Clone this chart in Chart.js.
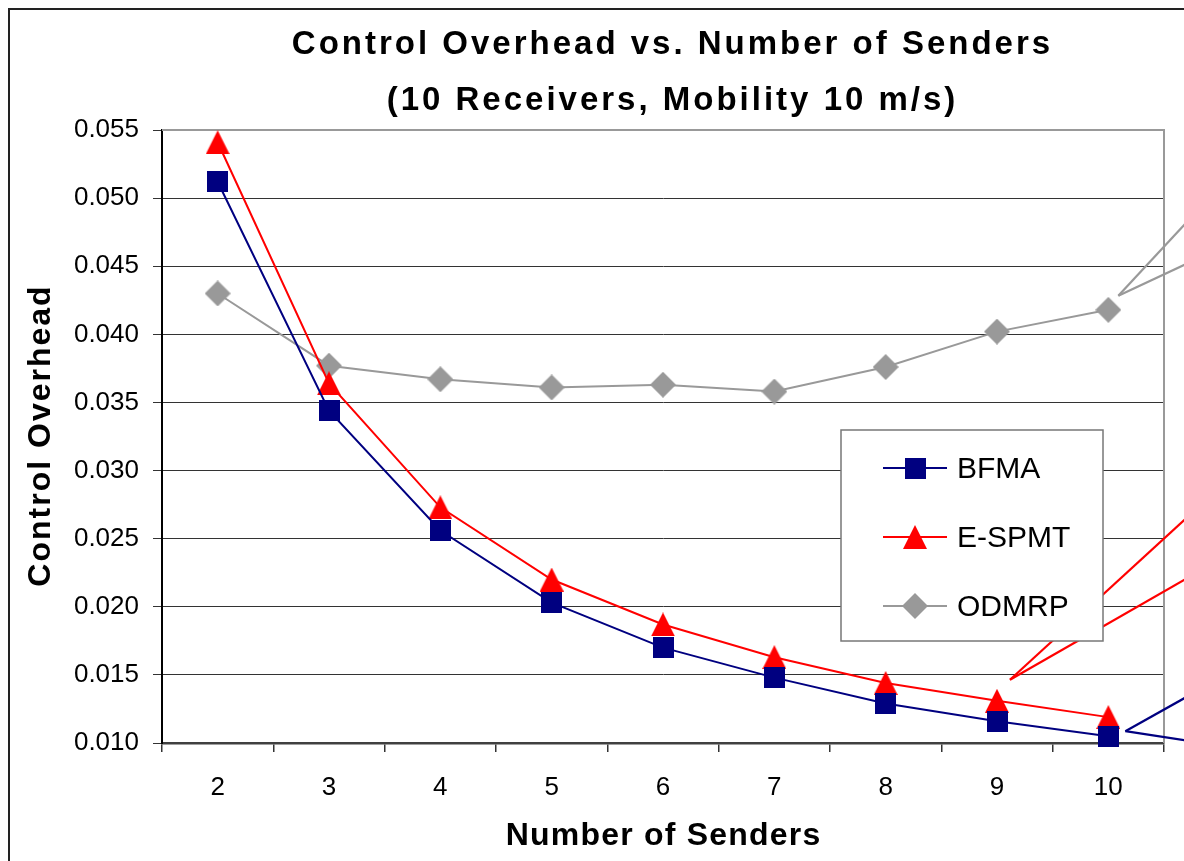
<!DOCTYPE html>
<html lang="en">
<head>
<meta charset="UTF-8">
<title>Control Overhead vs. Number of Senders</title>
<script src="https://cdn.jsdelivr.net/npm/chart.js"></script>
<style>
  html, body { margin: 0; padding: 0; background: #fff; overflow: hidden; }
  #wrap { width: 1184px; height: 861px; position: relative; }
</style>
</head>
<body>
<div id="wrap"><canvas id="grafik"></canvas></div>
<script>
// data
const senders = ["2", "3", "4", "5", "6", "7", "8", "9", "10"];
const bfma  = [0.0512, 0.0344, 0.0256, 0.0203, 0.0170, 0.0148, 0.0129, 0.0116, 0.0105];
const espmt = [0.0541, 0.0364, 0.0273, 0.0220, 0.0187, 0.0163, 0.0144, 0.0131, 0.0119];
const odmrp = [0.0430, 0.0377, 0.0367, 0.0361, 0.0363, 0.0358, 0.0376, 0.0402, 0.0418];
const seriesNames = ["BFMA", "E-SPMT", "ODMRP"];
const yMin = 0.010, yMax = 0.055, yStep = 0.005;

const titleLines = ["Control Overhead vs. Number of Senders", "(10 Receivers, Mobility 10 m/s)"];
const xTitle = "Number of Senders";
const yTitle = "Control Overhead";

const FONT = '"Liberation Sans", Arial, sans-serif';
const NAVY = "#000080", RED = "#ff0000", GRAY = "#999999";

// marker bikin sendiri supaya pas di tengah
function marker(shape, color, size) {
  const c = document.createElement("canvas");
  c.width = size; c.height = size;
  const g = c.getContext("2d");
  g.fillStyle = color;
  g.beginPath();
  if (shape === "square") {
    g.rect(0, 0, size, size);
  } else if (shape === "triangle") {
    g.moveTo(size / 2, 0); g.lineTo(size, size); g.lineTo(0, size); g.closePath();
  } else {
    g.moveTo(size / 2, 0); g.lineTo(size, size / 2); g.lineTo(size / 2, size); g.lineTo(0, size / 2); g.closePath();
  }
  g.fill();
  return c;
}
const mSquare = marker("square", NAVY, 21);
const mTriangle = marker("triangle", RED, 24);
const mDiamond = marker("diamond", GRAY, 26);

// garis callout (leader line) yang keluar ke kanan gambar
const callouts = [
  { ds: 2, idx: 8, off: [10, -14], dirs: [[66, -71], [66, -31]], color: GRAY },
  { ds: 1, idx: 7, off: [13, -21], dirs: [[169, -155], [169, -97]], color: RED },
  { ds: 0, idx: 8, off: [17, -5], dirs: [[59, -33], [59, 9]], color: NAVY }
];

function spacedText(ctx, text, x, y, ls) {
  ctx.letterSpacing = ls + "px";
  ctx.fillText(text, x + ls / 2, y);
  ctx.letterSpacing = "0px";
}

const hiasan = {
  id: "hiasan",
  beforeDatasetsDraw(chart) {
    const { ctx, chartArea: a } = chart;
    ctx.save();
    ctx.strokeStyle = GRAY;
    ctx.lineWidth = 2;
    ctx.beginPath();
    ctx.moveTo(a.left, a.top);
    ctx.lineTo(a.right, a.top);
    ctx.lineTo(a.right, a.bottom);
    ctx.stroke();
    ctx.restore();
  },
  afterDraw(chart) {
    const { ctx, chartArea: a, width, height } = chart;
    ctx.save();

    // bingkai luar
    ctx.strokeStyle = "#222";
    ctx.lineWidth = 2;
    ctx.beginPath();
    ctx.moveTo(9, height);
    ctx.lineTo(9, 9);
    ctx.lineTo(width, 9);
    ctx.stroke();

    // judul
    ctx.fillStyle = "#000";
    ctx.textAlign = "center";
    ctx.textBaseline = "alphabetic";
    ctx.font = "bold 33px " + FONT;
    const cx = (a.left + a.right) / 2 + 8;
    spacedText(ctx, titleLines[0], cx, 54, 3);
    spacedText(ctx, titleLines[1], cx, 110, 3);

    // judul sumbu
    ctx.font = "bold 32px " + FONT;
    spacedText(ctx, xTitle, (a.left + a.right) / 2, 845, 1.2);
    ctx.save();
    ctx.translate(50, (a.top + a.bottom) / 2);
    ctx.rotate(-Math.PI / 2);
    spacedText(ctx, yTitle, 0, 0, 2);
    ctx.restore();

    // callout
    ctx.lineWidth = 2.2;
    callouts.forEach(c => {
      const p = chart.getDatasetMeta(c.ds).data[c.idx];
      const vx = p.x + c.off[0], vy = p.y + c.off[1];
      ctx.strokeStyle = c.color;
      c.dirs.forEach(d => {
        ctx.beginPath();
        ctx.moveTo(vx, vy);
        ctx.lineTo(vx + d[0] * 3, vy + d[1] * 3);
        ctx.stroke();
      });
    });

    // legenda
    const bx = a.right - 323, by = a.top + 300, bw = 262, bh = 211;
    ctx.fillStyle = "#fff";
    ctx.fillRect(bx, by, bw, bh);
    ctx.strokeStyle = "#777";
    ctx.lineWidth = 1.5;
    ctx.strokeRect(bx, by, bw, bh);
    ctx.textAlign = "left";
    ctx.textBaseline = "middle";
    ctx.font = "30px " + FONT;
    chart.data.datasets.forEach((ds, i) => {
      const ry = by + 38 + i * 69;
      ctx.strokeStyle = ds.borderColor;
      ctx.lineWidth = 2;
      ctx.beginPath();
      ctx.moveTo(bx + 42, ry);
      ctx.lineTo(bx + 106, ry);
      ctx.stroke();
      const img = ds.pointStyle;
      ctx.drawImage(img, bx + 74 - img.width / 2, ry - img.height / 2);
      ctx.fillStyle = "#000";
      ctx.fillText(ds.label, bx + 116, ry + 2);
    });

    ctx.restore();
  }
};

Chart.defaults.font.family = FONT;
Chart.defaults.color = "#000";

new Chart(document.getElementById("grafik"), {
  type: "line",
  data: {
    labels: senders,
    datasets: [
      { label: seriesNames[0], data: bfma, borderColor: NAVY, backgroundColor: NAVY, borderWidth: 2, pointStyle: mSquare, pointRadius: 11 },
      { label: seriesNames[1], data: espmt, borderColor: RED, backgroundColor: RED, borderWidth: 2, pointStyle: mTriangle, pointRadius: 12 },
      { label: seriesNames[2], data: odmrp, borderColor: GRAY, backgroundColor: GRAY, borderWidth: 2, pointStyle: mDiamond, pointRadius: 13 }
    ]
  },
  options: {
    responsive: true,
    maintainAspectRatio: false,
    animation: false,
    clip: false,
    layout: { padding: { top: 130, right: 20, bottom: 0, left: 0 } },
    plugins: {
      legend: { display: false },
      title: { display: false },
      tooltip: { enabled: false }
    },
    elements: { line: { tension: 0 } },
    scales: {
      x: {
        offset: true,
        grid: { offset: true, drawOnChartArea: false, drawTicks: true, tickLength: 9, color: "#333", lineWidth: 1.5 },
        border: { color: "#404040", width: 2.5 },
        ticks: { font: { size: 26 }, padding: 20, maxRotation: 0 },
        afterFit(s) { s.height = 118; }
      },
      y: {
        min: yMin,
        max: yMax,
        grid: { color: "#333", lineWidth: 1, tickLength: 9 },
        border: { color: "#000", width: 2 },
        ticks: {
          stepSize: yStep,
          font: { size: 26 },
          padding: 14,
          callback: v => v.toFixed(3)
        },
        afterFit(s) { s.width = 162; }
      }
    }
  },
  plugins: [hiasan]
});
</script>
</body>
</html>
